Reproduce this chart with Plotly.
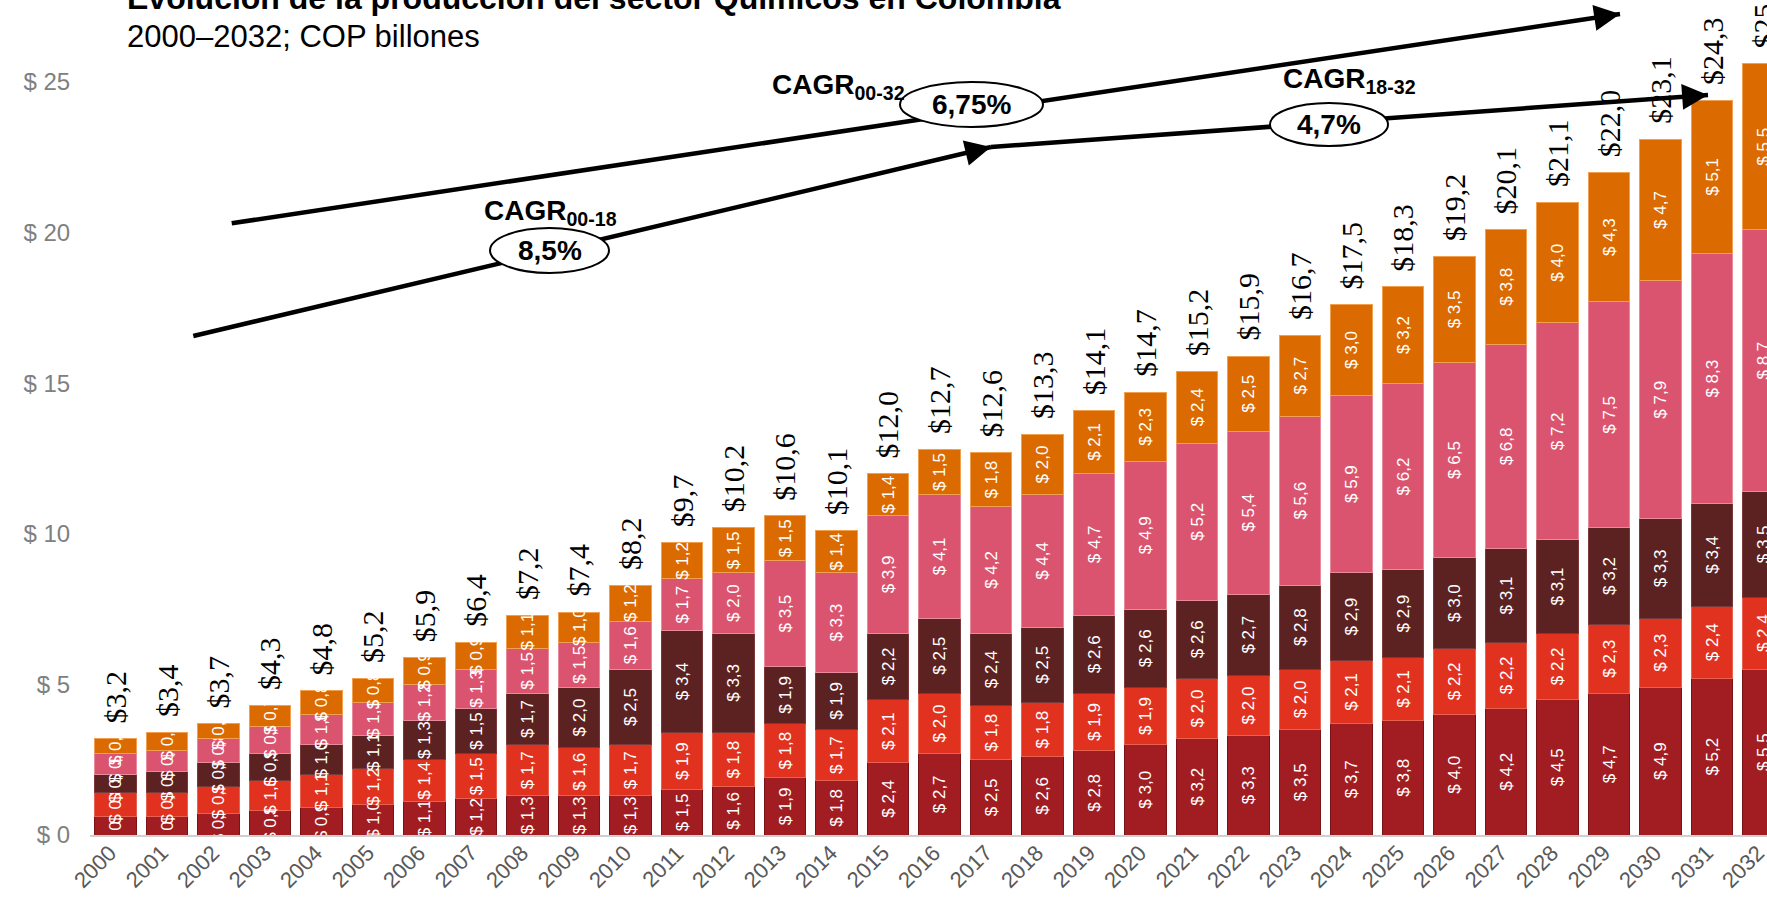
import plotly.graph_objects as go

years = list(range(2000, 2033))
seg1 = [0.6, 0.6, 0.7, 0.8, 0.9, 1.0, 1.1, 1.2, 1.3, 1.3, 1.3, 1.5, 1.6, 1.9, 1.8, 2.4, 2.7, 2.5, 2.6, 2.8, 3.0,
        3.2, 3.3, 3.5, 3.7, 3.8, 4.0, 4.2, 4.5, 4.7, 4.9, 5.2, 5.5]
seg2 = [0.8, 0.8, 0.9, 1.0, 1.1, 1.2, 1.4, 1.5, 1.7, 1.6, 1.7, 1.9, 1.8, 1.8, 1.7, 2.1, 2.0, 1.8, 1.8, 1.9, 1.9,
        2.0, 2.0, 2.0, 2.1, 2.1, 2.2, 2.2, 2.2, 2.3, 2.3, 2.4, 2.4]
seg3 = [0.6, 0.7, 0.8, 0.9, 1.0, 1.1, 1.3, 1.5, 1.7, 2.0, 2.5, 3.4, 3.3, 1.9, 1.9, 2.2, 2.5, 2.4, 2.5, 2.6, 2.6,
        2.6, 2.7, 2.8, 2.9, 2.9, 3.0, 3.1, 3.1, 3.2, 3.3, 3.4, 3.5]
seg4 = [0.7, 0.7, 0.8, 0.9, 1.0, 1.1, 1.2, 1.3, 1.5, 1.5, 1.6, 1.7, 2.0, 3.5, 3.3, 3.9, 4.1, 4.2, 4.4, 4.7, 4.9,
        5.2, 5.4, 5.6, 5.9, 6.2, 6.5, 6.8, 7.2, 7.5, 7.9, 8.3, 8.7]
seg5 = [0.5, 0.6, 0.5, 0.7, 0.8, 0.8, 0.9, 0.9, 1.1, 1.0, 1.2, 1.2, 1.5, 1.5, 1.4, 1.4, 1.5, 1.8, 2.0, 2.1, 2.3,
        2.4, 2.5, 2.7, 3.0, 3.2, 3.5, 3.8, 4.0, 4.3, 4.7, 5.1, 5.5]
totals = [3.2, 3.4, 3.7, 4.3, 4.8, 5.2, 5.9, 6.4, 7.2, 7.4, 8.2, 9.7, 10.2, 10.6, 10.1, 12.0, 12.7, 12.6, 13.3,
          14.1, 14.7, 15.2, 15.9, 16.7, 17.5, 18.3, 19.2, 20.1, 21.1, 22.0, 23.1, 24.3, 25.5]
year_labels = [str(y) for y in years]

series = [seg1, seg2, seg3, seg4, seg5]
colors = ["#A11D21", "#E0321F", "#5C2121", "#DA546F", "#DB6A00"]
edges = ["#7A1416", "#E8604F", "#7A3A3A", "#E88A9C", "#F0A050"]

title = "Evolución de la producción del sector Químicos en Colombia"
subtitle = "2000–2032; COP billones"

W, H = 1767, 907
ML, MB = 90, 72
XC0, PXU = 115.5, 51.5          # pixel centre of first bar, pixels per year
Y0PX, PYU = 835.0, 30.12        # pixel of zero, pixels per unit

def px2x(px):
    return years[0] + (px - XC0) / PXU

def px2y(py):
    return (Y0PX - py) / PYU

fig = go.Figure()
for vals, col, ec in zip(series, colors, edges):
    fig.add_trace(go.Bar(
        x=years, y=vals,
        marker=dict(color=col, line=dict(color=ec, width=1)),
        texttemplate="$ %{y:.1f}",
        textposition="inside",
        insidetextanchor="middle",
        textangle=-90,
        constraintext="none",
        textfont=dict(family="Arial, Liberation Sans", size=17, color="white"),
        hoverinfo="skip",
        showlegend=False,
    ))

annotations = []
for i, yr in enumerate(years):
    top = sum(s[i] for s in series)
    annotations.append(dict(
        x=yr, y=top, xref="x", yref="y",
        text="$" + f"{totals[i]:.1f}".replace(".", ","),
        textangle=-90, showarrow=False,
        xanchor="center", yanchor="bottom", yshift=13,
        font=dict(family="Liberation Serif, Times New Roman", size=30, color="black"),
    ))
    # rotated category labels
    annotations.append(dict(
        x=yr, y=0, xref="x", yref="y",
        text=year_labels[i], textangle=-45, showarrow=False,
        xanchor="right", yanchor="top", xshift=9, yshift=-3,
        font=dict(family="Arial, Liberation Sans", size=22, color="#595959"),
    ))

# title & subtitle
annotations.append(dict(x=(125 - ML) / (W - ML), y=1, xref="paper", yref="paper",
                        xanchor="left", yanchor="middle", yshift=2, showarrow=False,
                        text="<b>" + title + "</b>",
                        font=dict(family="Arial, Liberation Sans", size=32, color="black")))
annotations.append(dict(x=(125 - ML) / (W - ML), y=1, xref="paper", yref="paper",
                        xanchor="left", yanchor="middle", yshift=-36, showarrow=False,
                        text=subtitle,
                        font=dict(family="Arial, Liberation Sans", size=31, color="black")))

# CAGR lines (pixel positions of the hand-drawn arrows)
lines = [((231.7, 223.3), (1620, 14)),
         ((193.3, 336.0), (991, 147)),
         ((991, 147), (1708, 95))]
shapes = []
for (p0, p1) in lines:
    shapes.append(dict(type="line", xref="x", yref="y",
                       x0=px2x(p0[0]), y0=px2y(p0[1]), x1=px2x(p1[0]), y1=px2y(p1[1]),
                       line=dict(color="black", width=4.5), layer="above"))
    dx, dy = p1[0] - p0[0], p1[1] - p0[1]
    L = (dx * dx + dy * dy) ** 0.5
    annotations.append(dict(x=px2x(p1[0]), y=px2y(p1[1]), xref="x", yref="y",
                            ax=-22 * dx / L, ay=-22 * dy / L, axref="pixel", ayref="pixel",
                            showarrow=True, arrowhead=2, arrowsize=1.15, arrowwidth=4.5,
                            arrowcolor="black", standoff=0, text=""))

ellipses = [((490, 228, 609, 273), "8,5%"),
            ((900, 82, 1043, 127), "6,75%"),
            ((1270, 103, 1388, 146), "4,7%")]
for (x0, y0, x1, y1), txt in ellipses:
    shapes.append(dict(type="circle", xref="x", yref="y",
                       x0=px2x(x0), x1=px2x(x1), y0=px2y(y1), y1=px2y(y0),
                       fillcolor="white", line=dict(color="black", width=2), layer="above"))
    annotations.append(dict(x=px2x((x0 + x1) / 2), y=px2y((y0 + y1) / 2), xref="x", yref="y",
                            text="<b>" + txt + "</b>", showarrow=False,
                            font=dict(family="Arial, Liberation Sans", size=28, color="black")))

cagr_labels = [((550, 212), "CAGR<sub>00-18</sub>"),
               ((838, 86), "CAGR<sub>00-32</sub>"),
               ((1349, 80), "CAGR<sub>18-32</sub>")]
for (px, py), txt in cagr_labels:
    annotations.append(dict(x=px2x(px), y=px2y(py), xref="x", yref="y",
                            text="<b>" + txt + "</b>", showarrow=False,
                            font=dict(family="Arial, Liberation Sans", size=28, color="black")))

fig.update_layout(
    width=W, height=H,
    barmode="stack", bargap=0.2,
    plot_bgcolor="white", paper_bgcolor="white",
    margin=dict(l=ML, r=0, t=0, b=MB, pad=0),
    separators=",.",
    showlegend=False,
    annotations=annotations,
    shapes=shapes,
    xaxis=dict(range=[px2x(ML), px2x(W)], tickmode="array", tickvals=years,
               showticklabels=False,
               showgrid=False, zeroline=False, showline=True, linecolor="#D0D0D0", linewidth=2,
               ticks=""),
    yaxis=dict(range=[0, px2y(0)], tick0=0, dtick=5, tickprefix="$ ",
               tickfont=dict(family="Arial, Liberation Sans", size=24, color="#808080"),
               showgrid=False, zeroline=False, showline=False,
               ticks="outside", ticklen=14, tickcolor="rgba(0,0,0,0)"),
)

fig.write_html("out.html", config={"displayModeBar": False},
               post_script="document.body.style.margin='0px';")
